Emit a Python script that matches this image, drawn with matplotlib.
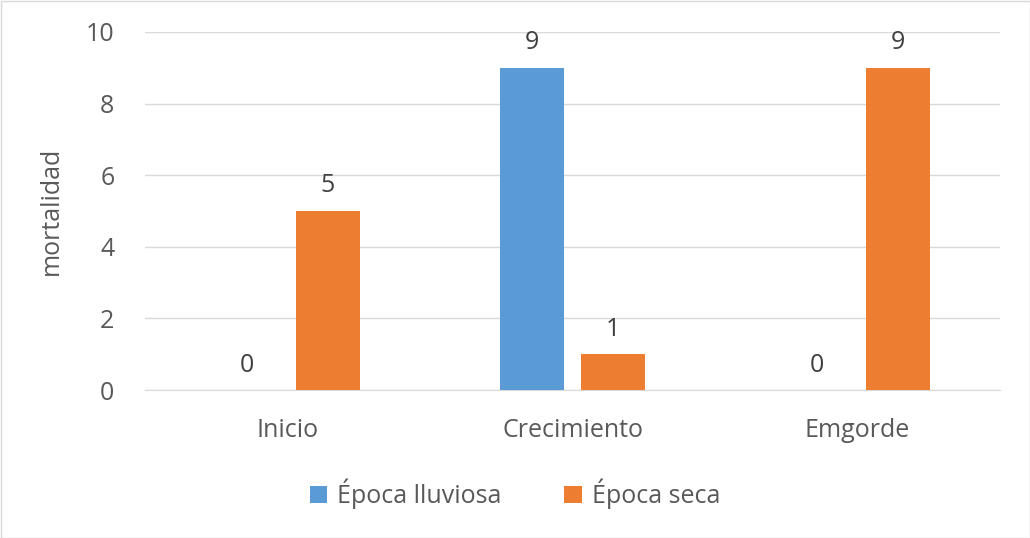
import matplotlib.pyplot as plt
import numpy as np
from matplotlib.patches import Rectangle

plt.rcParams['font.family'] = ['Open Sans', 'DejaVu Sans']

categories = ['Inicio', 'Crecimiento', 'Emgorde']
lluviosa = [0, 9, 0]
seca = [5, 1, 9]
yticks = [0, 2, 4, 6, 8, 10]

blue = '#5B9BD5'
orange = '#ED7D31'
txt = '#595959'
fs = 18

fig = plt.figure(figsize=(10.30, 5.38), dpi=100)
ax = fig.add_axes([145 / 1030, 1 - 390 / 538, 855 / 1030, 358 / 538])

x = np.arange(len(categories))
w = 0.225
off = 0.142
b1 = ax.bar(x - off, lluviosa, w, color=blue, label='Época lluviosa', zorder=3)
b2 = ax.bar(x + off, seca, w, color=orange, label='Época seca', zorder=3)

# value labels above every bar (zeros included)
for bars in (b1, b2):
    for r in bars:
        h = r.get_height()
        ax.annotate(f"{h:g}", xy=(r.get_x() + r.get_width() / 2, h),
                    xytext=(0, 9), textcoords='offset points',
                    ha='center', va='bottom', fontsize=fs, color='#404040')

ax.set_xlim(-0.5, 2.5)
ax.set_ylim(0, 10)
ax.set_yticks(yticks)
ax.set_xticks(x)
ax.set_xticklabels(categories)
ax.tick_params(axis='both', length=0, labelsize=fs, colors=txt)
ax.tick_params(axis='x', pad=20)
ax.tick_params(axis='y', pad=22)
ax.grid(axis='y', color='#D9D9D9', linewidth=1, zorder=0)
for s in ('top', 'right', 'left'):
    ax.spines[s].set_visible(False)
ax.spines['bottom'].set_color('#D9D9D9')
ax.set_ylabel('mortalidad', fontsize=fs, color=txt, labelpad=16)

fig.legend(handles=[b1, b2], loc='center', bbox_to_anchor=(0.5, 1 - 494 / 538),
           ncol=2, frameon=False, fontsize=fs, labelcolor=txt,
           handlelength=0.7, handleheight=0.7, columnspacing=2.5, handletextpad=0.4)

fig.patches.append(Rectangle((0.5 / 1030, 0.5 / 538), 1 - 1 / 1030, 1 - 1 / 538,
                             transform=fig.transFigure, fill=False,
                             edgecolor='#D9D9D9', linewidth=1))

fig.savefig('out.png', dpi=100)
